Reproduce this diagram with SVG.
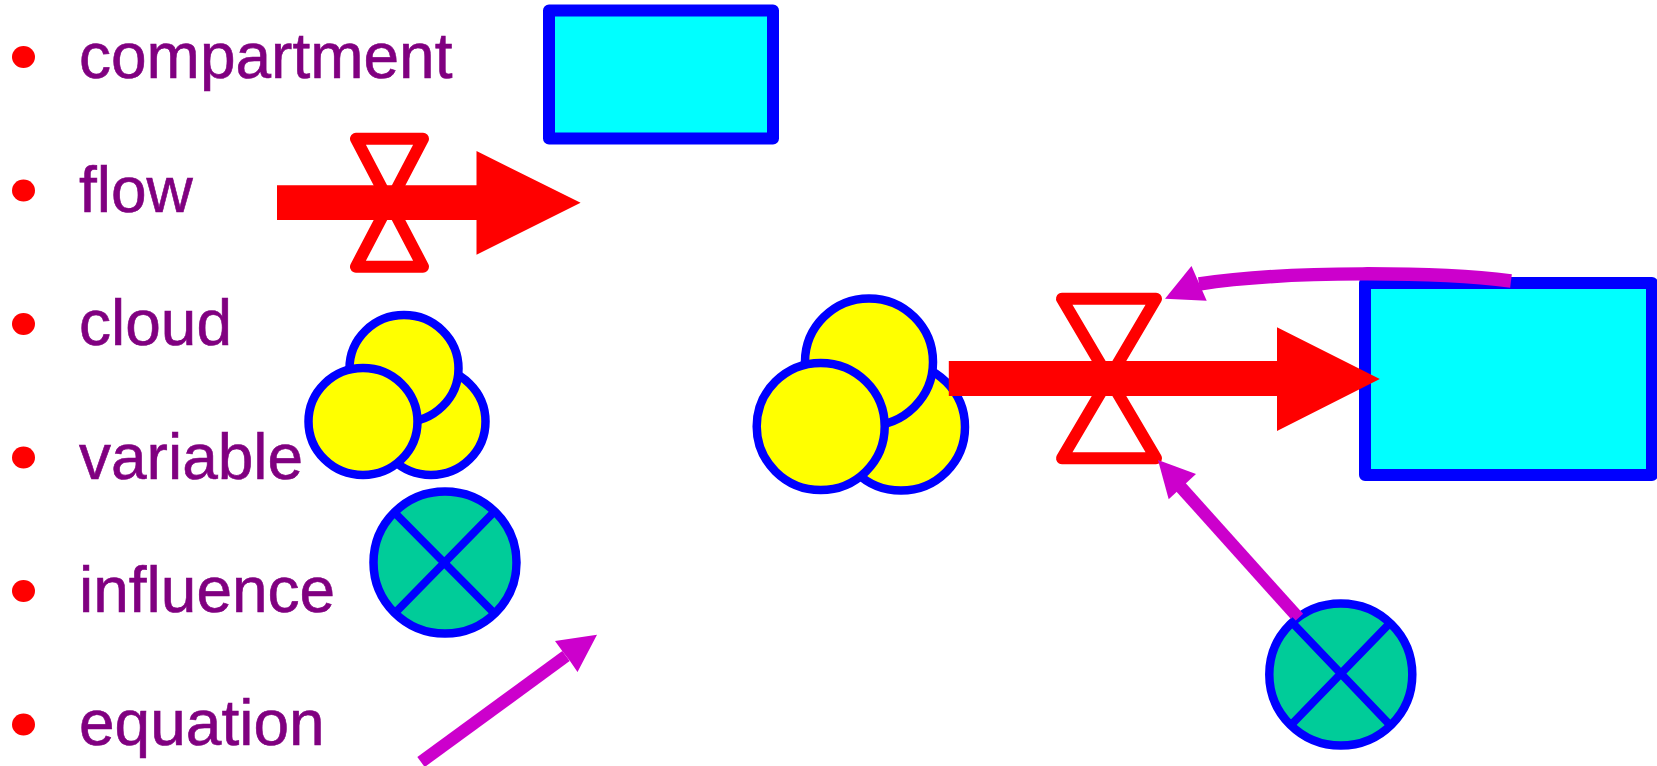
<svg xmlns="http://www.w3.org/2000/svg" width="1657" height="766" viewBox="0 0 1657 766">
<style>
.label{font-family:"Liberation Sans",Arial,sans-serif;font-size:64px;fill:#800080;stroke:#800080;stroke-width:.6}
.bullet{fill:#ff0000}
.comp{fill:#00ffff;stroke:#0000ff;stroke-width:12;stroke-linejoin:round}
.valve{fill:none;stroke:#ff0000;stroke-width:12;stroke-linejoin:round}
.flow{fill:#ff0000}
.cloud{fill:#ffff00;stroke:#0000ff;stroke-width:8.5}
.var{fill:#00cc99;stroke:#0000ff;stroke-width:8.5}
.x{fill:none;stroke:#0000ff;stroke-width:8}
.inf{fill:none;stroke:#cc00cc;stroke-width:12.5}
.head{fill:#cc00cc}
</style>
<g id="legend">
<g id="item-compartment"><ellipse class="bullet" cx="23.5" cy="57" rx="11.5" ry="11"/><text class="label" x="79" y="78">compartment</text></g>
<g id="item-flow"><ellipse class="bullet" cx="23.5" cy="190.5" rx="11.5" ry="11"/><text class="label" x="79" y="211.5">flow</text></g>
<g id="item-cloud"><ellipse class="bullet" cx="23.5" cy="324" rx="11.5" ry="11"/><text class="label" x="79" y="345">cloud</text></g>
<g id="item-variable"><ellipse class="bullet" cx="23.5" cy="457.5" rx="11.5" ry="11"/><text class="label" x="79" y="478.5">variable</text></g>
<g id="item-influence"><ellipse class="bullet" cx="23.5" cy="591" rx="11.5" ry="11"/><text class="label" x="79" y="612">influence</text></g>
<g id="item-equation"><ellipse class="bullet" cx="23.5" cy="724.5" rx="11.5" ry="11"/><text class="label" x="79" y="745">equation</text></g>
</g>
<g id="compartment-sample"><rect class="comp" x="549" y="10.5" width="224" height="128"/></g>
<g id="compartment-main"><rect class="comp" x="1365" y="283" width="287" height="192"/></g>
<g id="cloud-sample">
<ellipse class="cloud" cx="431" cy="421.5" rx="54.5" ry="53.5"/>
<ellipse class="cloud" cx="404" cy="368.5" rx="54.5" ry="53.5"/>
<ellipse class="cloud" cx="363" cy="421.5" rx="54.5" ry="53.5"/>
</g>
<g id="cloud-main">
<ellipse class="cloud" cx="901" cy="427" rx="64" ry="63.5"/>
<ellipse class="cloud" cx="869" cy="362" rx="64" ry="63.5"/>
<ellipse class="cloud" cx="820.7" cy="426.5" rx="64" ry="63.5"/>
</g>
<g id="variable-sample">
<ellipse class="var" cx="445" cy="562.5" rx="71.5" ry="71"/>
<path class="x" d="M393,511L495,614M495,511L394,614"/>
</g>
<g id="variable-main">
<ellipse class="var" cx="1340.8" cy="674.5" rx="71.5" ry="71"/>
</g>
<g id="connectors">
<path class="flow" d="M277,185.3H476.5V151L580.6,202.7L476.5,254.7V220H277Z"/>
<path class="valve" d="M356,138.7H423L356,266.7H423Z"/>
<path class="flow" d="M948.8,361H1277V327.3L1379.8,379L1277,431V396H948.8Z"/>
<path class="valve" d="M1062,298.7H1156L1062,458.3H1156Z"/>
<path class="inf" d="M421,762L566,656"/>
<path class="head" d="M597,634.7L555,641L563,652L570,661L577.5,672Z"/>
<path class="inf" style="stroke-width:13.5" d="M1511,281C1440,272 1290,270 1199,284"/>
<path class="head" d="M1165,298.7L1191.5,266L1206.7,300.7Z"/>
<path class="inf" d="M1298.5,618L1178,484"/>
<path class="head" d="M1158,460L1196,474L1168.7,499.3Z"/>
<path class="x" d="M1289.7,620L1390,725M1390,623L1291,725"/>
</g>
</svg>
